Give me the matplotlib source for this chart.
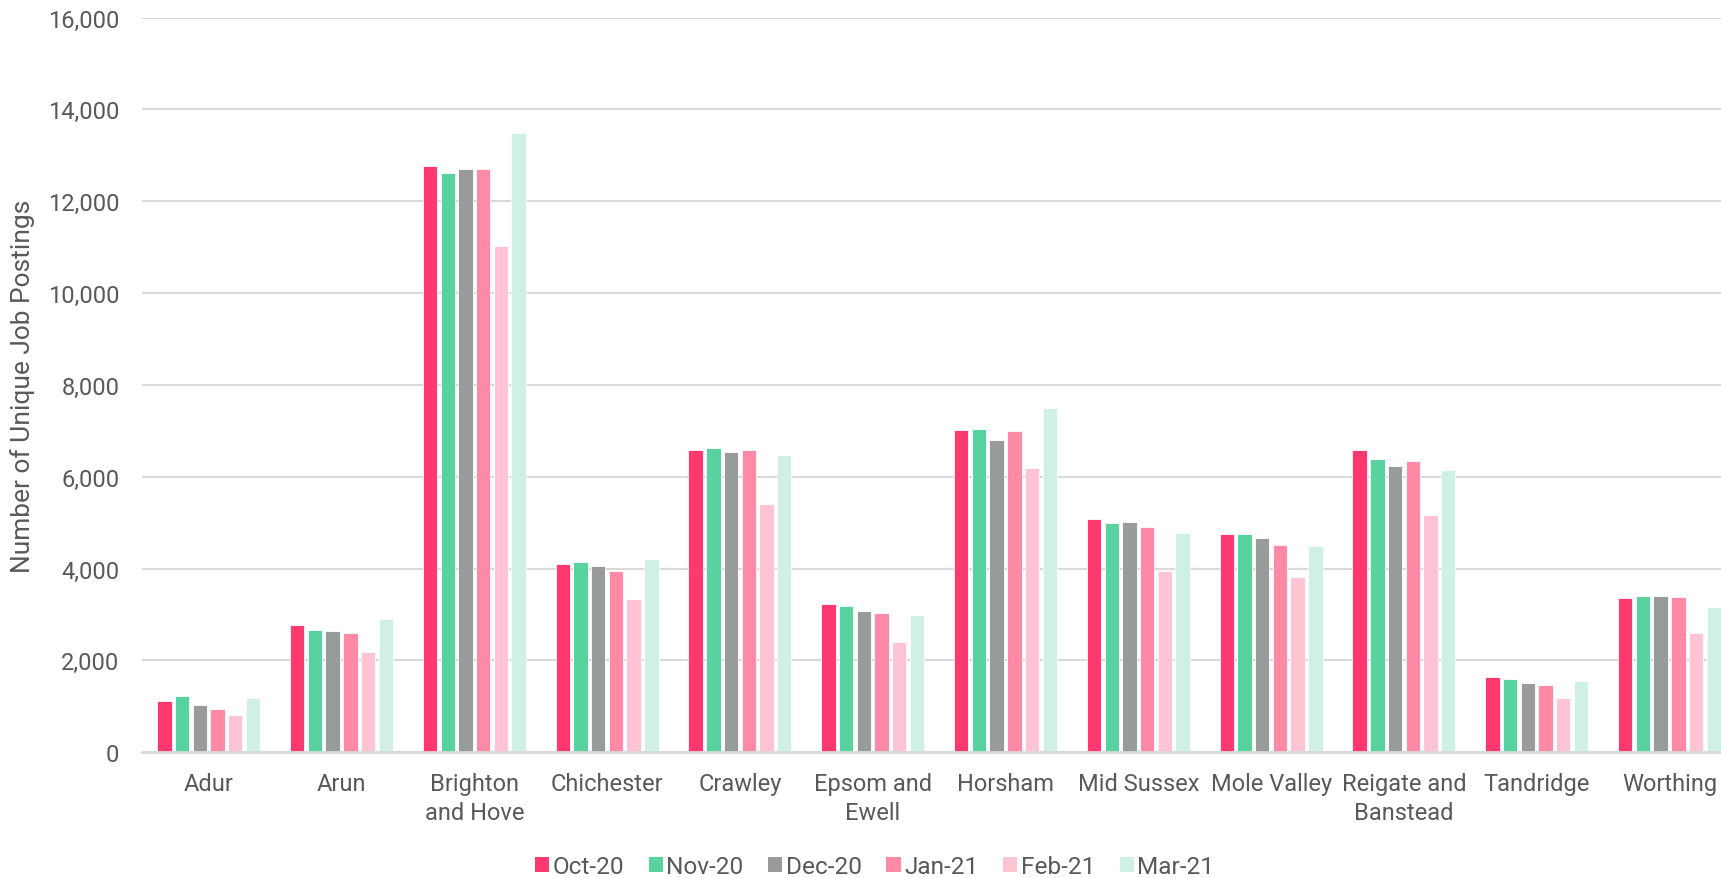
import numpy as np
import matplotlib
matplotlib.use("Agg")
import matplotlib.pyplot as plt
from matplotlib.patches import Patch

plt.rcParams['font.family'] = ['Roboto', 'DejaVu Sans']

districts = ["Adur", "Arun", "Brighton\nand Hove", "Chichester", "Crawley",
             "Epsom and\nEwell", "Horsham", "Mid Sussex", "Mole Valley",
             "Reigate and\nBanstead", "Tandridge", "Worthing"]
months = ["Oct-20", "Nov-20", "Dec-20", "Jan-21", "Feb-21", "Mar-21"]

oct_20 = [1123, 2763, 12757, 4097, 6578, 3227, 7027, 5076, 4750, 6592, 1631, 3350]
nov_20 = [1225, 2661, 12611, 4141, 6621, 3176, 7041, 4989, 4750, 6382, 1595, 3400]
dec_20 = [1029, 2639, 12698, 4054, 6541, 3068, 6810, 5011, 4656, 6244, 1501, 3400]
jan_21 = [942, 2589, 12691, 3945, 6578, 3038, 7006, 4895, 4518, 6353, 1465, 3379]
feb_21 = [811, 2182, 11023, 3336, 5396, 2400, 6186, 3938, 3814, 5163, 1175, 2596]
mar_21 = [1188, 2894, 13481, 4213, 6476, 2981, 7491, 4779, 4489, 6143, 1545, 3162]

series = [oct_20, nov_20, dec_20, jan_21, feb_21, mar_21]
colors = ["#FF3870", "#58D3A0", "#979C9B", "#FF8AA8", "#FFC4D4", "#CFF0E2"]

text_color = "#595959"
grid_color = "#D9D9D9"
fs = 17

fig = plt.figure(figsize=(17.21, 8.79), dpi=100)
# plot area runs slightly past the right edge of the canvas
ax = fig.add_axes([142.3 / 1721, 125.7 / 879, 1593.6 / 1721, 734.8 / 879])

x = np.arange(len(districts))
step = 0.1333
bar_w = 0.108
for i, (vals, col) in enumerate(zip(series, colors)):
    offs = (i - 2.5) * step
    ax.bar(x + offs, vals, width=bar_w, color=col, edgecolor='white',
           linewidth=0.6, zorder=3)

ax.set_xlim(-0.5, len(districts) - 0.5)
ax.set_ylim(0, 16000)
ax.set_yticks(np.arange(0, 16001, 2000))
ax.yaxis.set_major_formatter(matplotlib.ticker.FuncFormatter(lambda v, p: f"{int(v):,}"))
ax.set_xticks(x)
ax.set_xticklabels(districts, linespacing=1.33)

ax.grid(axis='y', color=grid_color, linewidth=1.5, zorder=0)
ax.set_axisbelow(True)
for side in ["top", "right", "left"]:
    ax.spines[side].set_visible(False)
ax.spines["bottom"].set_color(grid_color)
ax.spines["bottom"].set_linewidth(2)
ax.spines["bottom"].set_zorder(4)

ax.tick_params(axis='y', length=0, pad=16.5, labelsize=fs, labelcolor=text_color)
ax.tick_params(axis='x', length=0, pad=14, labelsize=fs, labelcolor=text_color)

fig.text(23 / 1721, 1 - 386 / 879, "Number of Unique Job Postings", rotation=90,
         ha='center', va='center', fontsize=19, color=text_color)

handles = [Patch(facecolor=c, edgecolor='none', label=m) for c, m in zip(colors, months)]
fig.legend(handles=handles, loc='center', bbox_to_anchor=(874.5 / 1721, 1 - 868 / 879),
           ncol=6, frameon=False, fontsize=17.6, labelcolor=text_color,
           handlelength=0.58, handleheight=0.58, handletextpad=0.15,
           columnspacing=1.0, borderaxespad=0, borderpad=0)

fig.savefig("out.png", dpi=100)
